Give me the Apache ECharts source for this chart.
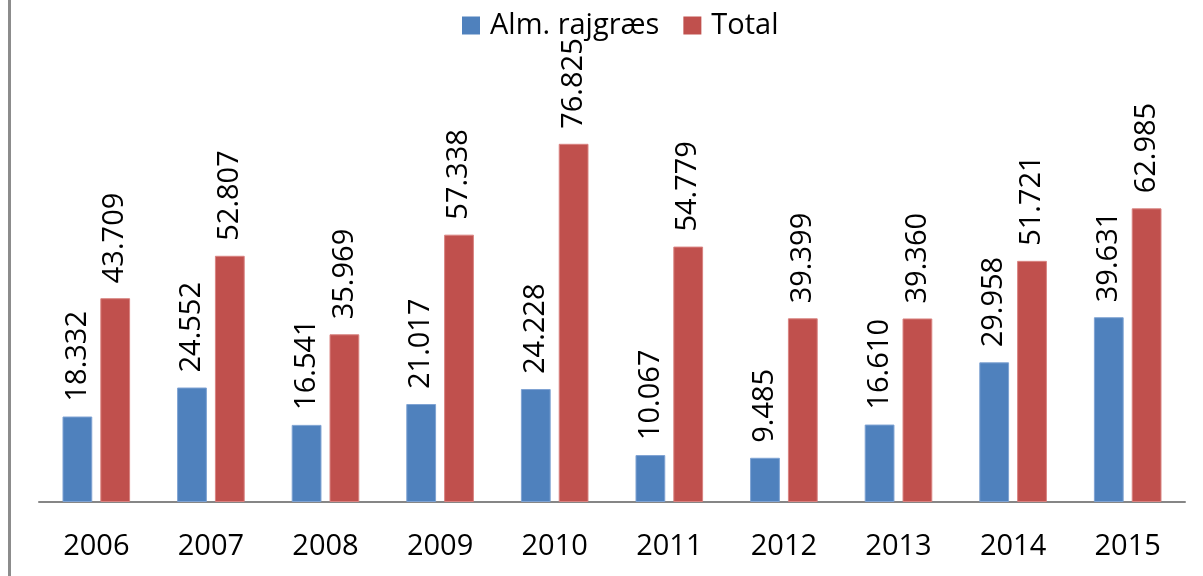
<!DOCTYPE html>
<html>
<head>
<meta charset="utf-8">
<script src="https://cdn.jsdelivr.net/npm/echarts@6/dist/echarts.min.js"></script>
<style>
  html, body { margin: 0; padding: 0; background: #fff; }
  #chart { width: 1203px; height: 576px; }
</style>
</head>
<body>
<div id="chart"></div>
<script>
const years = ['2006', '2007', '2008', '2009', '2010', '2011', '2012', '2013', '2014', '2015']
const rajgraes = [18332, 24552, 16541, 21017, 24228, 10067, 9485, 16610, 29958, 39631]
const total = [43709, 52807, 35969, 57338, 76825, 54779, 39399, 39360, 51721, 62985]

const FONT = '"Open Sans", "Liberation Sans", sans-serif'

// dansk tusindtalsseparator
function fmt(v) {
  return String(v).replace(/\B(?=(\d{3})+(?!\d))/g, '.')
}

const label = {
  show: true,
  position: 'top',
  rotate: 90,
  align: 'left',
  verticalAlign: 'middle',
  distance: 15,
  fontFamily: FONT,
  fontSize: 29,
  color: '#000',
  formatter: p => fmt(p.value)
}

const chart = echarts.init(document.getElementById('chart'))
chart.setOption({
  animation: false,
  textStyle: { fontFamily: FONT },
  legend: {
    left: 457,
    top: 6,
    itemWidth: 18,
    itemHeight: 18,
    itemGap: 24,
    icon: 'rect',
    itemStyle: { borderWidth: 0 },
    textStyle: { fontFamily: FONT, fontSize: 29, color: '#000', padding: [0, 0, 0, 5] },
    data: ['Alm. rajgræs', 'Total']
  },
  grid: { left: 39, right: 18, top: 129, bottom: 74 },
  xAxis: {
    type: 'category',
    data: years,
    axisTick: { show: false },
    axisLine: { lineStyle: { color: '#868686', width: 2 } },
    axisLabel: { fontFamily: FONT, fontSize: 29, color: '#000', margin: 30 }
  },
  yAxis: {
    type: 'value',
    min: 0,
    max: 80000,
    show: false,
    splitLine: { show: false }
  },
  series: [
    {
      name: 'Alm. rajgræs',
      type: 'bar',
      data: rajgraes,
      barGap: '27%',
      barCategoryGap: '41%',
      itemStyle: { color: '#4F81BD', borderColor: '#7FA3D3', borderWidth: 1 },
      label
    },
    {
      name: 'Total',
      type: 'bar',
      data: total,
      itemStyle: { color: '#C0504D', borderColor: '#D98381', borderWidth: 1 },
      label
    }
  ],
  graphic: [{
    type: 'rect',
    shape: { x: 8, y: 0, width: 3, height: 576 },
    style: { fill: '#8C8C8C' },
    silent: true
  }]
})
</script>
</body>
</html>
